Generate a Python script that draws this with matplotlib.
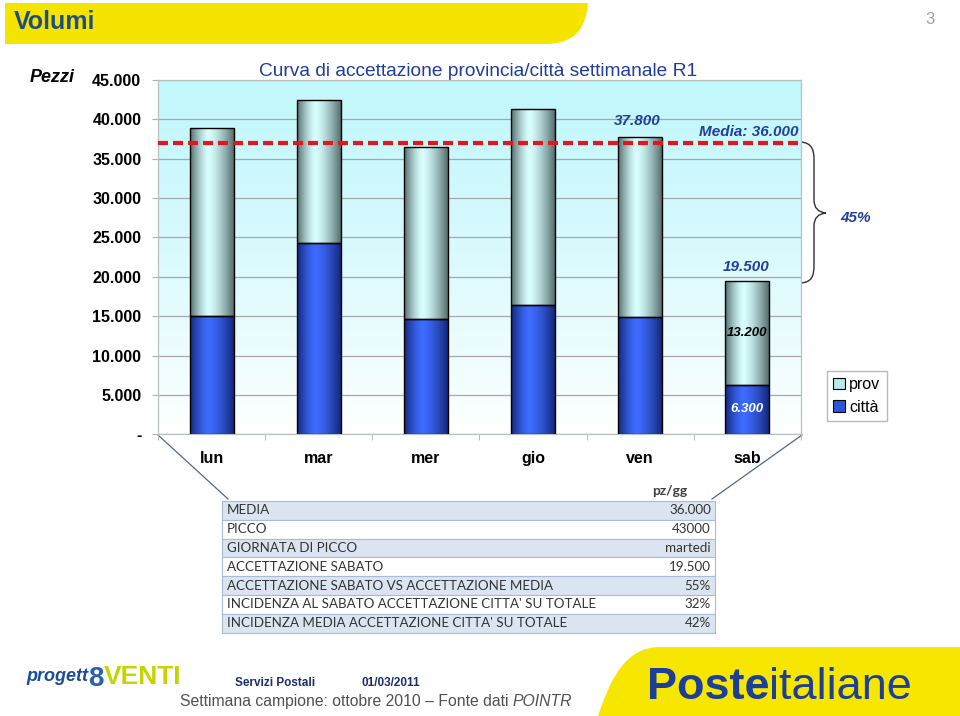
import numpy as np
import matplotlib
matplotlib.use("Agg")
import matplotlib.pyplot as plt
from matplotlib.patches import Rectangle, Patch, PathPatch
from matplotlib.path import Path

plt.rcParams["font.family"] = ["Liberation Sans", "DejaVu Sans"]

# --- data ---
days = ["lun", "mar", "mer", "gio", "ven", "sab"]
citta = [15000, 24300, 14700, 16400, 14900, 6300]
prov = [23900, 18100, 21800, 24900, 22900, 13200]
media_value = 36000      # value written in the label
media_line = 37000       # where the dashed line sits in the picture
share_sab = "45%"

y_ticks = [0, 5000, 10000, 15000, 20000, 25000, 30000, 35000, 40000, 45000]
y_labels = ["-", "5.000", "10.000", "15.000", "20.000", "25.000", "30.000",
            "35.000", "40.000", "45.000"]

table_rows = [
    "MEDIA",
    "PICCO",
    "GIORNATA DI PICCO",
    "ACCETTAZIONE SABATO",
    "ACCETTAZIONE SABATO VS ACCETTAZIONE MEDIA",
    "INCIDENZA AL SABATO ACCETTAZIONE CITTA' SU TOTALE",
    "INCIDENZA MEDIA ACCETTAZIONE CITTA' SU TOTALE",
]
table_values = ["36.000", "43000", "martedi", "19.500", "55%", "32%", "42%"]


def fmt(v):
    return f"{v:,}".replace(",", ".")


W, H = 960, 716
fig = plt.figure(figsize=(W / 100, H / 100), dpi=100)

# decoration layer in pixel coordinates (y down)
deco = fig.add_axes([0, 0, 1, 1], zorder=0)
deco.set_xlim(0, W)
deco.set_ylim(H, 0)
deco.axis("off")

BLUE_TXT = "#22409a"

# header banner
banner = Path(
    [(5, 3), (588, 3), (586, 28), (575, 44), (545, 44), (5, 44), (5, 3)],
    [Path.MOVETO, Path.LINETO, Path.CURVE4, Path.CURVE4, Path.CURVE4, Path.LINETO, Path.CLOSEPOLY],
)
deco.add_patch(PathPatch(banner, facecolor="#f5e400", edgecolor="none"))
deco.text(14, 22, "Volumi", fontsize=18, fontweight="bold", color="#1c4f80", va="center")
deco.text(930, 19, "3", fontsize=12, color="#a0a0a0", va="center", ha="center")

deco.text(52, 78, "Pezzi", fontsize=13, fontweight="bold", style="italic", ha="center", va="center")
deco.text(478, 72, "Curva di accettazione provincia/città settimanale R1",
          fontsize=13.8, color="#1f3d9a", ha="center", va="center")

# --- chart ---
ax = fig.add_axes([158 / W, 1 - 434.3 / H, 643 / W, (434.3 - 80) / H], zorder=2)
x = np.arange(len(days))
bw = 0.41

# background gradient of the plot area
ramp = np.linspace(0, 1, 200) ** 1.3
top_c = np.array([0.76, 0.97, 0.99])
bot_c = np.array([1.0, 1.0, 1.0])
bg = (top_c + (bot_c - top_c) * ramp[:, None])[:, None, :]
ax.imshow(bg, extent=[-0.5, 5.5, 0, 45000], aspect="auto", zorder=0, origin="upper")

b1 = ax.bar(x, citta, bw, facecolor="none", edgecolor="black", linewidth=1, zorder=3)
b2 = ax.bar(x, prov, bw, bottom=citta, facecolor="none", edgecolor="black", linewidth=1, zorder=3)


def shade(rects, edge, mid):
    t = np.linspace(0, 1, 120)
    d = np.where(t < 0.42, (0.42 - t) / 0.42, (t - 0.42) / 0.58)
    s = 1 - d ** 1.4
    edge = np.array(matplotlib.colors.to_rgb(edge))
    mid = np.array(matplotlib.colors.to_rgb(mid))
    img = (edge + (mid - edge) * s[:, None])[None, :, :]
    for r in rects:
        x0, y0, w, h = r.get_x(), r.get_y(), r.get_width(), r.get_height()
        im = ax.imshow(img, extent=[x0, x0 + w, y0, y0 + h], aspect="auto",
                       zorder=2, interpolation="bilinear")
        im.set_clip_path(r)


shade(b1, "#14287a", "#3d6cff")
shade(b2, "#566e6e", "#d8ffff")

ax.axhline(media_line, color="#e8141c", linewidth=3, linestyle=(0, (2.4, 1.2)), zorder=4)

ax.set_xlim(-0.5, 5.5)
ax.set_ylim(0, 45000)
ax.set_yticks(y_ticks)
ax.set_yticklabels(y_labels, fontsize=11.5, fontweight="bold")
ax.set_xticks(x)
ax.set_xticklabels(days, fontsize=11.5, fontweight="bold")
ax.set_xticks(np.arange(-0.5, 6, 1), minor=True)
ax.tick_params(axis="x", which="major", length=0, pad=12)
ax.tick_params(axis="x", which="minor", length=4, color="#b0b0b0")
ax.tick_params(axis="y", length=4, color="#b0b0b0", pad=8)
ax.yaxis.grid(True, color="#a8a8a8", linewidth=0.9)
for s in ax.spines.values():
    s.set_color("#b8c0c0")
    s.set_linewidth(0.9)

lab = dict(fontsize=11, fontweight="bold", style="italic", color=BLUE_TXT, ha="center", va="center")
ax.annotate(fmt(citta[4] + prov[4]), (x[4], citta[4] + prov[4]), xytext=(-2, 11),
            textcoords="offset points", **lab)
ax.annotate(fmt(citta[5] + prov[5]), (x[5], citta[5] + prov[5]), xytext=(-1, 10),
            textcoords="offset points", **lab)
ax.annotate("Media: " + fmt(media_value), (5.48, media_line), xytext=(0, 8),
            textcoords="offset points", **{**lab, "ha": "right"})
ax.text(x[5], citta[5] + prov[5] / 2, fmt(prov[5]), fontsize=9.5, fontweight="bold",
        style="italic", color="black", ha="center", va="center", zorder=5)
ax.text(x[5], citta[5] / 2, fmt(citta[5]), fontsize=9.5, fontweight="bold",
        style="italic", color="white", ha="center", va="center", zorder=5)

fig.legend(handles=[Patch(facecolor="#b8e8e8", edgecolor="black", linewidth=0.8),
                    Patch(facecolor="#2a55e0", edgecolor="black", linewidth=0.8)],
           labels=["prov", "città"], loc="upper left",
           bbox_to_anchor=(827 / W, 1 - 371 / H), borderaxespad=0, fontsize=11.5,
           frameon=True, fancybox=False, edgecolor="#a8a8a8", handlelength=0.7,
           handleheight=0.7, handletextpad=0.3, borderpad=0.4, labelspacing=0.45)

# brace between media and saturday
brace = Path(
    [(801, 142), (812, 143), (814, 150), (814, 160),
     (814, 200), (814, 212), (826, 213),
     (814, 214), (814, 226), (814, 265),
     (814, 276), (812, 282), (801, 283)],
    [Path.MOVETO, Path.CURVE4, Path.CURVE4, Path.CURVE4,
     Path.LINETO, Path.CURVE3, Path.CURVE3,
     Path.CURVE3, Path.CURVE3, Path.LINETO,
     Path.CURVE4, Path.CURVE4, Path.CURVE4],
)
deco.add_patch(PathPatch(brace, facecolor="none", edgecolor="#303030", linewidth=1))
deco.text(855, 218, share_sab, fontsize=11, fontweight="bold", style="italic", color=BLUE_TXT,
          ha="center", va="center")

# connector lines to the table
deco.plot([158, 228], [435, 499], color="#4c6a8c", linewidth=0.9)
deco.plot([802, 712], [435, 499], color="#4c6a8c", linewidth=0.9)

# --- summary table ---
tx0, tx1, ty0, rh = 222, 715, 501, 18.8
tfont = ["Lato", "DejaVu Sans"]
deco.text(670, 491, "pz/gg", fontsize=10, fontweight="bold", color="#404040",
          ha="center", va="center", family=tfont)
for i, (name, val) in enumerate(zip(table_rows, table_values)):
    y0 = ty0 + i * rh
    fc = "#dbe5f1" if i % 2 == 0 else "white"
    deco.add_patch(Rectangle((tx0, y0), tx1 - tx0, rh, facecolor=fc, edgecolor="#a6bcd8", linewidth=0.8))
    deco.text(tx0 + 5, y0 + rh / 2, name, fontsize=9.6, color="#333333", va="center", family=tfont)
    deco.text(tx1 - 4, y0 + rh / 2, val, fontsize=9.6, color="#333333", va="center", ha="right",
              family=tfont)

# --- footer ---
foot = Path(
    [(W, 647), (660, 647), (625, 647), (610, 680), (598, 716), (W, 716), (W, 647)],
    [Path.MOVETO, Path.LINETO, Path.CURVE4, Path.CURVE4, Path.CURVE4, Path.LINETO, Path.CLOSEPOLY],
)
deco.add_patch(PathPatch(foot, facecolor="#f7e600", edgecolor="none"))
t1 = deco.text(647, 699, "Poste", fontsize=32.5, fontweight="bold", color="#1d3f95", va="baseline")
deco.annotate("italiane", xy=(1, 0), xycoords=t1, fontsize=32.5, color="#1d3f95", va="bottom", ha="left")

p1 = deco.text(26, 681, "progett", fontsize=13, fontweight="bold", style="italic",
               color="#1b4b9b", va="baseline")
p2 = deco.annotate("8", xy=(1, 0), xycoords=p1, xytext=(0, -5), textcoords="offset points",
                   fontsize=20, fontweight="bold", color="#2a62a8", va="bottom", ha="left")
deco.annotate("VENTI", xy=(1, 0), xycoords=p2, xytext=(0, 2), textcoords="offset points",
              fontsize=19, fontweight="bold", color="#c6d300", va="bottom", ha="left")

deco.text(235, 683, "Servizi Postali", fontsize=8.5, fontweight="bold", color="#1c2f6a", va="center")
deco.text(362, 683, "01/03/2011", fontsize=8.5, fontweight="bold", color="#1c2f6a", va="center")
s1 = deco.text(180, 706, "Settimana campione: ottobre 2010 – Fonte dati ", fontsize=11.3,
               color="#505050", va="baseline")
deco.annotate("POINTR", xy=(1, 0), xycoords=s1, fontsize=11.3, style="italic",
              color="#505050", va="bottom", ha="left")

fig.savefig("out.png", dpi=100)
